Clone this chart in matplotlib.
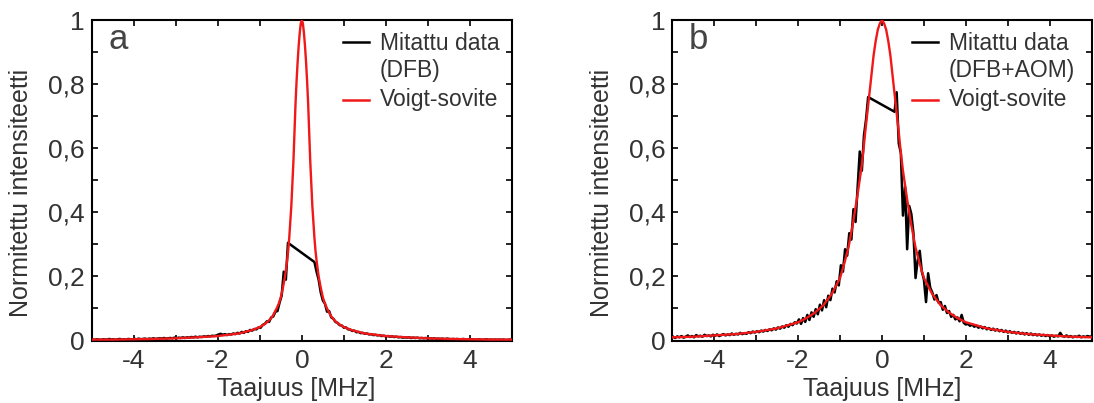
import numpy as np
import matplotlib
matplotlib.use("Agg")
import matplotlib.pyplot as plt
from matplotlib.ticker import MultipleLocator, FuncFormatter

plt.rcParams['font.family'] = ['Liberation Sans', 'DejaVu Sans']
plt.rcParams['axes.unicode_minus'] = False

TXT = '#333333'
RED = '#f01818'

# Voigt fits, one side of the symmetric profile (MHz, normalised)
fit_a_x = [0, 0.025, 0.05, 0.075, 0.1, 0.125, 0.15, 0.175, 0.2, 0.225, 0.25, 0.275,
           0.3, 0.325, 0.35, 0.375, 0.4, 0.45, 0.5, 0.55, 0.6, 0.7, 0.8, 0.9, 1.0,
           1.2, 1.5, 2.0, 2.5, 3.0, 3.5, 4.0, 4.5, 5.0]
fit_a_y = [1.0, 0.99, 0.96, 0.92, 0.87, 0.81, 0.74, 0.65, 0.56, 0.49, 0.42, 0.37,
           0.32, 0.28, 0.25, 0.225, 0.20, 0.165, 0.135, 0.115, 0.10, 0.075, 0.060,
           0.050, 0.042, 0.032, 0.022, 0.014, 0.010, 0.007, 0.005, 0.004, 0.003, 0.003]

fit_b_x = [0, 0.05, 0.1, 0.15, 0.2, 0.25, 0.3, 0.35, 0.4, 0.45, 0.5, 0.55, 0.6, 0.7,
           0.8, 0.9, 1.0, 1.2, 1.4, 1.6, 1.8, 2.0, 2.5, 3.0, 3.5, 4.0, 4.5, 5.0]
fit_b_y = [1.0, 0.99, 0.97, 0.935, 0.89, 0.83, 0.77, 0.71, 0.65, 0.585, 0.53, 0.485,
           0.44, 0.36, 0.29, 0.24, 0.195, 0.145, 0.11, 0.087, 0.07, 0.057, 0.038,
           0.027, 0.02, 0.016, 0.012, 0.010]

# measured spectra, sampled every 0.05 MHz; the saturated centre is missing
meas_left_x = np.round(np.linspace(-4.98, -0.33, 94), 2)
meas_right_x = np.round(np.linspace(0.30, 5.00, 95), 2)

meas_a_left = [
    0.003, 0.002, 0.004, 0.003, 0.002, 0.004, 0.003, 0.003, 0.005, 0.003,
    0.004, 0.002, 0.004, 0.005, 0.003, 0.004, 0.003, 0.005, 0.004, 0.003,
    0.005, 0.004, 0.006, 0.004, 0.005, 0.006, 0.004, 0.006, 0.005, 0.007,
    0.005, 0.006, 0.007, 0.006, 0.008, 0.006, 0.007, 0.008, 0.007, 0.009,
    0.007, 0.009, 0.008, 0.010, 0.008, 0.010, 0.009, 0.011, 0.010, 0.012,
    0.010, 0.012, 0.011, 0.013, 0.012, 0.014, 0.013, 0.015, 0.014, 0.016,
    0.019, 0.021, 0.018, 0.020, 0.017, 0.020, 0.019, 0.022, 0.020, 0.024,
    0.022, 0.027, 0.024, 0.029, 0.027, 0.033, 0.031, 0.036, 0.035, 0.041,
    0.040, 0.049, 0.052, 0.060, 0.058, 0.072, 0.075, 0.090, 0.092, 0.118,
    0.140, 0.215, 0.190, 0.305]
meas_a_right = [
    0.245, 0.215, 0.190, 0.150, 0.125, 0.115, 0.090, 0.092, 0.072, 0.068,
    0.058, 0.055, 0.048, 0.047, 0.040, 0.041, 0.035, 0.034, 0.030, 0.031,
    0.026, 0.027, 0.023, 0.024, 0.021, 0.022, 0.019, 0.020, 0.017, 0.018,
    0.016, 0.017, 0.014, 0.015, 0.013, 0.014, 0.012, 0.013, 0.011, 0.012,
    0.010, 0.011, 0.009, 0.010, 0.009, 0.010, 0.008, 0.009, 0.008, 0.009,
    0.007, 0.008, 0.007, 0.008, 0.006, 0.007, 0.006, 0.007, 0.005, 0.006,
    0.005, 0.006, 0.004, 0.006, 0.005, 0.004, 0.005, 0.004, 0.005, 0.003,
    0.004, 0.005, 0.003, 0.004, 0.003, 0.004, 0.003, 0.002, 0.004, 0.003,
    0.002, 0.003, 0.004, 0.002, 0.003, 0.002, 0.003, 0.002, 0.003, 0.002,
    0.003, 0.001, 0.002, 0.003, 0.002]

meas_b_left = [
    0.012, 0.008, 0.013, 0.010, 0.014, 0.009, 0.012, 0.016, 0.011, 0.014,
    0.010, 0.017, 0.013, 0.015, 0.012, 0.018, 0.014, 0.016, 0.013, 0.018,
    0.015, 0.019, 0.014, 0.017, 0.020, 0.016, 0.019, 0.017, 0.022, 0.018,
    0.021, 0.019, 0.024, 0.020, 0.023, 0.021, 0.026, 0.023, 0.028, 0.025,
    0.029, 0.026, 0.031, 0.028, 0.033, 0.030, 0.035, 0.032, 0.038, 0.034,
    0.041, 0.037, 0.044, 0.040, 0.048, 0.043, 0.052, 0.048, 0.057, 0.053,
    0.066, 0.052, 0.070, 0.058, 0.080, 0.064, 0.088, 0.074, 0.098, 0.082,
    0.112, 0.094, 0.126, 0.104, 0.140, 0.126, 0.162, 0.150, 0.185, 0.172,
    0.235, 0.215, 0.285, 0.265, 0.335, 0.315, 0.410, 0.370, 0.480, 0.590,
    0.530, 0.640, 0.690, 0.760]
meas_b_right = [
    0.714, 0.775, 0.615, 0.585, 0.390, 0.480, 0.285, 0.420, 0.395, 0.335,
    0.195, 0.250, 0.280, 0.215, 0.190, 0.120, 0.210, 0.165, 0.150, 0.128,
    0.142, 0.118, 0.120, 0.096, 0.108, 0.086, 0.092, 0.074, 0.080, 0.066,
    0.072, 0.060, 0.080, 0.055, 0.050, 0.052, 0.046, 0.050, 0.043, 0.047,
    0.040, 0.044, 0.038, 0.042, 0.035, 0.039, 0.033, 0.037, 0.031, 0.035,
    0.029, 0.033, 0.027, 0.031, 0.025, 0.029, 0.024, 0.027, 0.022, 0.026,
    0.021, 0.024, 0.019, 0.023, 0.018, 0.022, 0.017, 0.020, 0.016, 0.019,
    0.015, 0.018, 0.014, 0.017, 0.013, 0.016, 0.012, 0.015, 0.013, 0.024,
    0.014, 0.012, 0.016, 0.011, 0.014, 0.010, 0.013, 0.011, 0.015, 0.010,
    0.013, 0.011, 0.014, 0.012, 0.013]

panels = [
    ('a', 'Mitattu data', '(DFB)', fit_a_x, fit_a_y, meas_a_left, meas_a_right,
     [0.0838, 0.155, 0.3842, 0.795], 0.597, 0.486),
    ('b', 'Mitattu data', '(DFB+AOM)', fit_b_x, fit_b_y, meas_b_left, meas_b_right,
     [0.6145, 0.155, 0.3834, 0.795], 0.571, 0.5),
]


def mirror(hx, hy):
    hx = np.asarray(hx)
    hy = np.asarray(hy)
    return np.concatenate([-hx[:0:-1], hx]), np.concatenate([hy[:0:-1], hy])


def comma_fmt(v, pos):
    return f'{v:g}'.replace('.', ',')


fig = plt.figure(figsize=(10.94, 4.03), dpi=100)

for tag, leg1, leg2, hx, hy, left, right, rect, legx, xlab in panels:
    ax = fig.add_axes(rect)
    mx = np.concatenate([meas_left_x, meas_right_x])
    my = np.concatenate([left, right])
    fx, fy = mirror(hx, hy)
    ax.plot(mx, my, color='black', lw=1.8, zorder=2)
    ax.plot(fx, fy, color=RED, lw=1.7, zorder=3)

    ax.set_xlim(-5, 5)
    ax.set_ylim(0, 1)
    ax.xaxis.set_major_locator(MultipleLocator(2))
    ax.xaxis.set_minor_locator(MultipleLocator(1))
    ax.yaxis.set_major_locator(MultipleLocator(0.2))
    ax.yaxis.set_minor_locator(MultipleLocator(0.1))
    ax.yaxis.set_major_formatter(FuncFormatter(comma_fmt))
    ax.tick_params(which='both', direction='in', top=True, right=True,
                   length=4, width=1.2, colors='black', labelcolor=TXT,
                   labelsize=19)
    ax.tick_params(axis='x', pad=6)
    ax.tick_params(axis='y', pad=5)
    for sp in ax.spines.values():
        sp.set_linewidth(1.5)

    ax.set_xlabel('Taajuus [MHz]', fontsize=18, color=TXT)
    ax.xaxis.set_label_coords(xlab, -0.113)
    ax.set_ylabel('Normitettu intensiteetti', fontsize=18, color=TXT)
    ax.yaxis.set_label_coords(-0.14, 0.46)

    # panel letter and hand-placed legend
    ax.text(0.04, 0.94, tag, transform=ax.transAxes, fontsize=25, color='#444444',
            ha='left', va='center')
    ax.plot([legx, legx + 0.063], [0.932, 0.932], color='black', lw=1.8,
            transform=ax.transAxes)
    ax.plot([legx, legx + 0.063], [0.750, 0.750], color=RED, lw=1.8,
            transform=ax.transAxes)
    tx = legx + 0.089
    ax.text(tx, 0.927, leg1, transform=ax.transAxes, fontsize=16.5, color=TXT,
            ha='left', va='center')
    ax.text(tx, 0.842, leg2, transform=ax.transAxes, fontsize=16.5, color=TXT,
            ha='left', va='center')
    ax.text(tx, 0.753, 'Voigt-sovite', transform=ax.transAxes, fontsize=16.5,
            color=TXT, ha='left', va='center')

fig.savefig('out.png', dpi=100)
